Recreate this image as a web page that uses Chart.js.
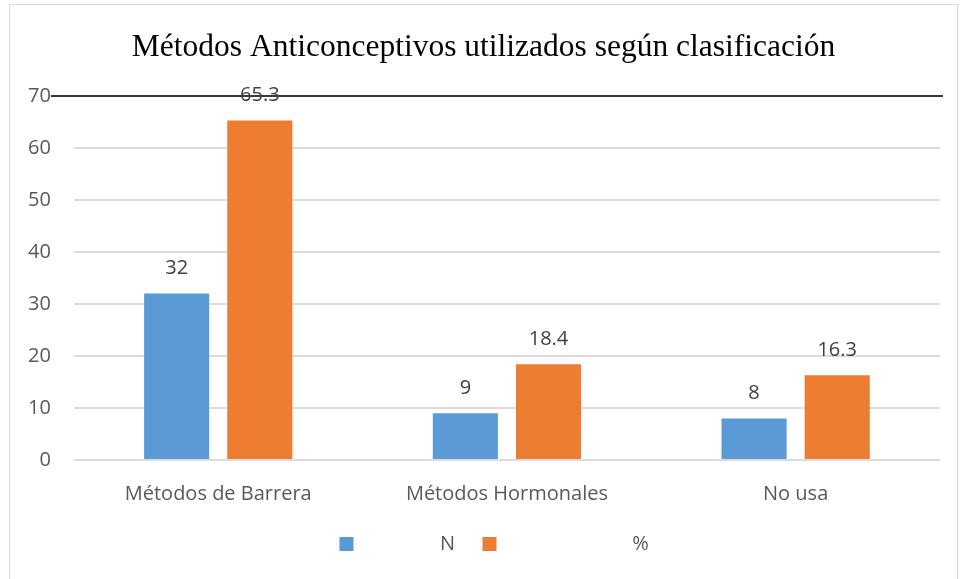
<!DOCTYPE html>
<html>
<head>
<meta charset="utf-8">
<script src="https://cdn.jsdelivr.net/npm/chart.js@4.4.1/dist/chart.umd.min.js"></script>
<style>
  body { margin: 0; background: #fff; }
  #wrap { position: relative; width: 961px; height: 579px; }
  #frame { position: absolute; left: 9px; top: 4px; width: 949px; height: 580px; border: 1px solid #d9d9d9; box-sizing: border-box; pointer-events: none; }
</style>
</head>
<body>
<div id="wrap">
  <canvas id="barChart" width="961" height="579"></canvas>
  <div id="frame"></div>
</div>
<script>
// chart values
const categories = ['Métodos de Barrera', 'Métodos Hormonales', 'No usa'];
const seriesN = [32, 9, 8];
const seriesPct = [65.3, 18.4, 16.3];
const seriesNames = ['N', '%'];
const yTicks = [0, 10, 20, 30, 40, 50, 60, 70];
const chartTitle = 'Métodos Anticonceptivos utilizados según clasificación';

const sansFont = "'Open Sans', 'Liberation Sans', sans-serif";

// title, value labels above bars, dark top rule, legend
const extras = {
  id: 'extras',
  beforeDraw(chart) {
    const ctx = chart.ctx;
    ctx.save();
    ctx.fillStyle = '#000';
    ctx.font = "31.5px 'Liberation Serif', 'Times New Roman', serif";
    ctx.textAlign = 'center';
    ctx.textBaseline = 'alphabetic';
    ctx.fillText(chartTitle, chart.width / 2 + 3, 56);
    ctx.restore();
  },
  afterDatasetsDraw(chart) {
    const ctx = chart.ctx;
    const y = chart.scales.y;
    const area = chart.chartArea;

    // top line at max value
    ctx.save();
    ctx.strokeStyle = '#3a3a3a';
    ctx.lineWidth = 2;
    const yTop = y.getPixelForValue(yTicks[yTicks.length - 1]);
    ctx.beginPath();
    ctx.moveTo(area.left - 23, yTop);
    ctx.lineTo(area.right + 3, yTop);
    ctx.stroke();

    // value labels
    ctx.fillStyle = '#404040';
    ctx.font = '20px ' + sansFont;
    ctx.textAlign = 'center';
    ctx.textBaseline = 'middle';
    chart.data.datasets.forEach((ds, i) => {
      chart.getDatasetMeta(i).data.forEach((bar, j) => {
        ctx.fillText(String(ds.data[j]), bar.x, bar.y - 25);
      });
    });

    // legend
    const cx = chart.width / 2;
    const ly = 544;
    const items = [
      { box: cx - 141, text: cx - 33 },
      { box: cx + 2, text: cx + 160 }
    ];
    chart.data.datasets.forEach((ds, i) => {
      const it = items[i];
      ctx.fillStyle = ds.backgroundColor;
      ctx.fillRect(it.box, ly - 7, 14, 14);
      ctx.fillStyle = '#595959';
      ctx.textAlign = 'center';
      ctx.fillText(ds.label, it.text, ly);
    });
    ctx.restore();
  }
};

new Chart(document.getElementById('barChart').getContext('2d'), {
  type: 'bar',
  data: {
    labels: categories,
    datasets: [
      { label: seriesNames[0], data: seriesN, backgroundColor: '#5b9bd5' },
      { label: seriesNames[1], data: seriesPct, backgroundColor: '#ed7d31' }
    ]
  },
  options: {
    responsive: false,
    animation: false,
    categoryPercentage: 0.576,
    barPercentage: 0.783,
    layout: { padding: { top: 96, left: 5, right: 21, bottom: 59 } },
    scales: {
      x: {
        grid: { display: false },
        border: { display: false },
        ticks: { color: '#595959', font: { family: sansFont, size: 20 }, padding: 14 }
      },
      y: {
        min: 0,
        max: 70,
        afterBuildTicks(axis) { axis.ticks = yTicks.map(v => ({ value: v })); },
        grid: { color: '#dcdcdc', lineWidth: 2, drawTicks: false },
        border: { display: false },
        ticks: { color: '#595959', font: { family: sansFont, size: 20 }, padding: 23 }
      }
    },
    plugins: {
      legend: { display: false },
      tooltip: { enabled: false },
      title: { display: false }
    }
  },
  plugins: [extras]
});
</script>
</body>
</html>
